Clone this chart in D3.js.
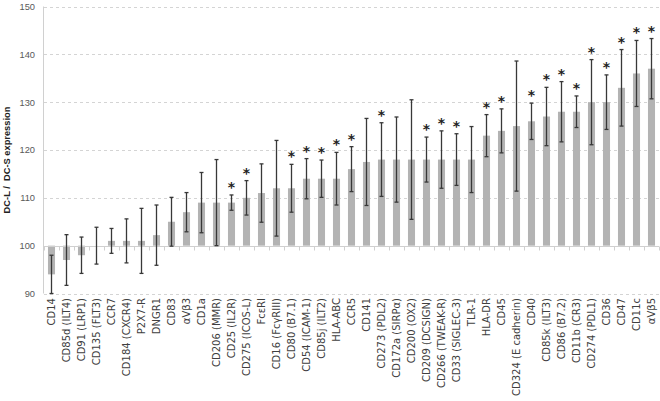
<!DOCTYPE html>
<html>
<head>
<meta charset="utf-8">
<script src="https://cdn.jsdelivr.net/npm/d3@7"></script>
<style>
  html, body { margin: 0; padding: 0; background: #fff; }
  svg { display: block; }
</style>
</head>
<body>
<svg id="chart" width="660" height="401"></svg>
<script>
const categories = [
  "CD14", "CD85d (ILT4)", "CD91 (LRP1)", "CD135 (FLT3)", "CCR7", "CD184 (CXCR4)",
  "P2X7-R", "DNGR1", "CD83", "αVβ3", "CD1a", "CD206 (MMR)", "CD25 (IL2R)",
  "CD275 (ICOS-L)", "FcεRI", "CD16 (FcγRIII)", "CD80 (B7.1)", "CD54 (ICAM-1)",
  "CD85j (ILT2)", "HLA-ABC", "CCR5", "CD141", "CD273 (PDL2)", "CD172a (SIRPα)",
  "CD200 (OX2)", "CD209 (DCSIGN)", "CD266 (TWEAK-R)", "CD33 (SIGLEC-3)", "TLR-1",
  "HLA-DR", "CD45", "CD324 (E cadherin)", "CD40", "CD85k (ILT3)", "CD86 (B7.2)",
  "CD11b (CR3)", "CD274 (PDL1)", "CD36", "CD47", "CD11c", "αVβ5"
];
const values = [
  94, 97, 98, 100, 101, 101,
  101, 102.2, 105, 107, 109, 109, 109,
  110, 111, 112, 112, 114,
  114, 114, 116, 117.5, 118, 118,
  118, 118, 118, 118, 118,
  123, 124, 125, 126, 127, 128,
  128, 130, 130, 133, 136, 137
];
const errors = [
  4, 5.3, 3.8, 3.85, 2.6, 4.6,
  6.8, 6.3, 5.1, 4.1, 6.3, 9, 1.6,
  3.6, 6.1, 10, 5, 4.2,
  3.9, 5.5, 4.7, 9.1, 7.7, 8.9,
  12.5, 4.7, 6, 5.4, 6.9,
  4.4, 4.6, 13.6, 3.8, 6.1, 6.3,
  3.3, 8.9, 5.7, 8, 6.9, 6.3
];
const significant = [
  0, 0, 0, 0, 0, 0,
  0, 0, 0, 0, 0, 0, 1,
  1, 0, 0, 1, 1,
  1, 1, 1, 0, 1, 0,
  0, 1, 1, 1, 0,
  1, 1, 0, 1, 1, 1,
  1, 1, 1, 1, 1, 1
];
const yTicks = [90, 100, 110, 120, 130, 140, 150];
const yTitle = "DC-L /  DC-S expression";

const data = categories.map((c, i) => ({ c, v: values[i], e: errors[i], s: significant[i] }));

const svg = d3.select("#chart");
const plotLeft = 44, plotRight = 659, plotTop = 6.5, plotBottom = 293.5;

const x = d3.scaleBand().domain(categories).range([plotLeft, plotRight])
  .paddingInner(0.53).paddingOuter(0.265);
const y = d3.scaleLinear().domain([90, 150]).range([plotBottom, plotTop]);
const step = x.step();
const cx = d => x(d.c) + x.bandwidth() / 2;

// gridlines (dashed)
svg.append("g").selectAll("line")
  .data(yTicks.filter(t => t !== 100))
  .join("line")
  .attr("x1", plotLeft).attr("x2", plotRight)
  .attr("y1", d => Math.round(y(d)) + 0.5).attr("y2", d => Math.round(y(d)) + 0.5)
  .attr("stroke", "#d4d4d4").attr("stroke-width", 1)
  .attr("stroke-dasharray", "3,3");

// y axis line
svg.append("line")
  .attr("x1", plotLeft - 0.5).attr("x2", plotLeft - 0.5)
  .attr("y1", y(150)).attr("y2", y(90))
  .attr("stroke", "#d0d0d0");

// y tick labels
const yAxis = d3.axisLeft(y).tickValues(yTicks).tickSize(0).tickPadding(9);
const ya = svg.append("g").attr("transform", `translate(${plotLeft},0)`).call(yAxis);
ya.select(".domain").remove();
ya.selectAll("text")
  .attr("font-family", "Liberation Sans, Arial, sans-serif")
  .attr("font-size", 9.3).attr("fill", "#595959");

// bars
svg.append("g").selectAll("rect")
  .data(data)
  .join("rect")
  .attr("x", d => x(d.c))
  .attr("width", x.bandwidth())
  .attr("y", d => Math.min(y(d.v), y(100)))
  .attr("height", d => Math.abs(y(d.v) - y(100)))
  .attr("fill", "#b3b3b3");

// baseline at 100 (category axis)
const y100 = Math.round(y(100)) + 0.5;
svg.append("line")
  .attr("x1", plotLeft).attr("x2", plotRight)
  .attr("y1", y100).attr("y2", y100)
  .attr("stroke", "#d0d0d0");
svg.append("g").selectAll("line")
  .data(d3.range(categories.length + 1))
  .join("line")
  .attr("x1", k => Math.round(plotLeft + k * step) + 0.5)
  .attr("x2", k => Math.round(plotLeft + k * step) + 0.5)
  .attr("y1", y100).attr("y2", y100 + 4)
  .attr("stroke", "#d0d0d0");

// error bars
const eg = svg.append("g").attr("stroke", "#383838").attr("stroke-width", 1.3);
data.forEach(d => {
  const xc = cx(d);
  eg.append("line").attr("x1", xc).attr("x2", xc)
    .attr("y1", y(d.v + d.e)).attr("y2", y(d.v - d.e));
  eg.append("line").attr("x1", xc - 2).attr("x2", xc + 2)
    .attr("y1", y(d.v + d.e)).attr("y2", y(d.v + d.e));
  eg.append("line").attr("x1", xc - 2).attr("x2", xc + 2)
    .attr("y1", y(d.v - d.e)).attr("y2", y(d.v - d.e));
});

// significance stars
svg.append("g").attr("opacity", 0.999).selectAll("text")
  .data(data.filter(d => d.s))
  .join("text")
  .attr("x", cx)
  .attr("y", d => y(d.v + d.e) - 3)
  .attr("text-anchor", "middle")
  .attr("font-family", "DejaVu Sans, sans-serif")
  .attr("font-weight", "bold")
  .attr("font-size", 14)
  .attr("fill", "#222")
  .text("*");

// category labels
svg.append("g").selectAll("text")
  .data(data)
  .join("text")
  .attr("transform", d => `translate(${cx(d) + 3.6},298) rotate(-90)`)
  .attr("text-anchor", "end")
  .attr("font-family", "DejaVu Sans, sans-serif")
  .attr("font-size", 10)
  .attr("fill", "#404040")
  .text(d => d.c);

// y title
svg.append("text")
  .attr("transform", `translate(9.5,${(plotTop + plotBottom) / 2 + 10}) rotate(-90)`)
  .attr("text-anchor", "middle")
  .attr("font-family", "Liberation Sans, Arial, sans-serif")
  .attr("font-weight", "bold")
  .attr("font-size", 9.3)
  .attr("fill", "#222")
  .style("white-space", "pre")
  .text(yTitle);
</script>
</body>
</html>
